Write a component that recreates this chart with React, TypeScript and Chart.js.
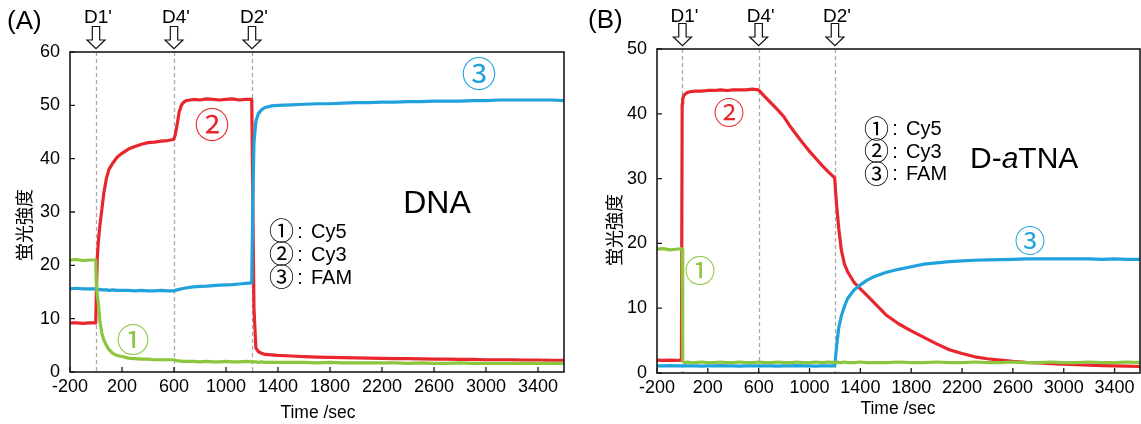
import React, { useEffect, useRef } from "react";
import { Chart, registerables } from "chart.js";

Chart.register(...registerables);

const LATIN = '"Liberation Sans", Arial, "Noto Sans CJK JP", sans-serif';
const CJK = '"Noto Sans CJK JP", "Liberation Sans", sans-serif';

const RED = "#e8262d";
const BLUE = "#22a2dc";
const GREEN = "#8cc63f";

// ---- shared tick labels / markers ----
const xTickLabels = [-200, 200, 600, 1000, 1400, 1800, 2200, 2600, 3000, 3400];
const injectTimes = [0, 600, 1200];
const injectLabels = ["D1'", "D4'", "D2'"];
const legendMarks = ["①", "②", "③"];
const legendNames = ["Cy5", "Cy3", "FAM"];

// ---- Panel A (DNA) ----
const timeA = [
  -200, -150, -100, -50, -2, 2, 10, 20, 30, 45, 60, 80, 100, 130, 160, 200, 250, 300, 350, 400, 450, 500,
  550, 598, 610, 625, 640, 660, 680, 700, 750, 800, 850, 900, 950, 1000, 1050, 1100, 1150, 1198, 1205,
  1215, 1230, 1250, 1275, 1300, 1350, 1400, 1500, 1600, 1700, 1800, 1900, 2000, 2100, 2200, 2300, 2400,
  2500, 2600, 2700, 2800, 2900, 3000, 3100, 3200, 3300, 3400, 3500, 3600,
];
const cy3A = [
  9.2, 9.2, 9.1, 9.2, 9.2,
  14.0, 21.5, 25.0, 27.5, 30.5, 33.5, 36.3, 38.0, 39.2, 40.2,
  41.0, 41.8, 42.3, 42.7, 43.0, 43.1, 43.3, 43.4, 43.6,
  44.5, 46.5, 48.8, 50.2, 50.7, 50.9,
  51.1, 51.0, 51.2, 51.1, 51.0, 51.1, 51.2, 51.0, 51.1, 51.1,
  35.0, 12.0, 4.5, 3.8, 3.5, 3.3, 3.2, 3.1,
  3.0, 2.9, 2.8, 2.75, 2.7, 2.65, 2.6, 2.55, 2.5, 2.5, 2.45, 2.4, 2.4, 2.35, 2.35, 2.3, 2.3, 2.3, 2.25,
  2.25, 2.2, 2.2,
];
const famA = [
  15.6, 15.7, 15.6, 15.6, 15.6,
  15.5, 15.5, 15.4, 15.5, 15.4, 15.4, 15.4, 15.3, 15.4, 15.3,
  15.3, 15.3, 15.2, 15.3, 15.2, 15.2, 15.3, 15.2, 15.2,
  15.3, 15.4, 15.5, 15.6, 15.7, 15.8,
  15.95, 16.05, 16.1, 16.2, 16.3, 16.35, 16.4, 16.5, 16.6, 16.7,
  30.0, 43.0, 47.0, 48.5, 49.2, 49.6, 49.9, 50.0,
  50.1, 50.2, 50.3, 50.3, 50.4, 50.5, 50.5, 50.6, 50.6, 50.7, 50.7, 50.8, 50.8, 50.8, 50.9, 50.9, 51.0,
  51.0, 51.0, 51.0, 51.0, 50.9,
];
const cy5A = [
  21.0, 21.1, 20.9, 21.0, 21.0,
  17.0, 14.5, 12.5, 9.5, 7.3, 6.0, 5.0, 4.2, 3.5, 3.1,
  2.9, 2.6, 2.5, 2.4, 2.4, 2.3, 2.3, 2.3, 2.3,
  2.2, 2.1, 2.1, 2.0, 2.0, 2.0,
  2.0, 1.9, 2.0, 1.9, 1.9, 2.0, 1.9, 1.9, 2.0, 1.9,
  1.9, 1.9, 1.9, 1.8, 1.9, 1.8, 1.8, 1.8,
  1.8, 1.8, 1.7, 1.8, 1.7, 1.7, 1.7, 1.7, 1.7, 1.6, 1.7, 1.6, 1.6, 1.7, 1.6, 1.6, 1.6, 1.6, 1.6, 1.6,
  1.6, 1.6,
];

// ---- Panel B (D-aTNA) ----
const timeB = [
  -200, -150, -100, -50, -8, -2, 2, 10, 25, 40, 60, 100, 150, 200, 250, 300, 350, 400, 450, 500, 550, 598,
  650, 700, 750, 800, 850, 900, 950, 1000, 1050, 1100, 1150, 1198, 1205, 1215, 1230, 1250, 1275, 1300,
  1350, 1400, 1450, 1500, 1600, 1700, 1800, 1900, 2000, 2100, 2200, 2300, 2400, 2500, 2600, 2700, 2800,
  2900, 3000, 3100, 3200, 3300, 3400, 3500, 3600,
];
const cy3B = [
  2.0, 1.95, 2.0, 1.95, 2.0,
  41.5,
  42.3, 42.8, 43.1, 43.3, 43.4,
  43.5, 43.5, 43.6, 43.6, 43.7, 43.6, 43.7, 43.7, 43.7, 43.8,
  43.7,
  42.6, 41.6, 40.6, 39.5, 38.0, 36.7, 35.4, 34.2, 33.1, 32.0, 31.0,
  30.1,
  28.0, 25.5, 22.3, 19.0, 16.8, 15.6, 14.0, 13.0, 12.0, 11.0,
  9.0, 7.6, 6.5, 5.5, 4.5, 3.6, 3.0, 2.5, 2.2, 2.0, 1.8, 1.65, 1.55, 1.45, 1.35, 1.3, 1.2, 1.15, 1.1,
  1.05, 1.0,
];
const famB = [
  1.1, 1.1, 1.15, 1.1, 1.1, 1.1,
  1.1, 1.1, 1.15, 1.1, 1.1,
  1.1, 1.05, 1.1, 1.1, 1.15, 1.1, 1.1, 1.05, 1.1, 1.1,
  1.1,
  1.1, 1.1, 1.05, 1.1, 1.1, 1.15, 1.1, 1.1, 1.05, 1.1, 1.1,
  1.1,
  2.5, 4.5, 7.0, 8.8, 10.3, 11.5, 12.8, 13.6, 14.3, 14.8,
  15.5, 16.0, 16.4, 16.8, 17.0, 17.2, 17.3, 17.4, 17.45, 17.5, 17.55, 17.6, 17.6, 17.6, 17.6, 17.6, 17.6,
  17.55, 17.6, 17.55, 17.55,
];
const cy5B = [
  19.1, 19.2, 19.0, 19.1, 19.2, 19.1,
  1.8, 1.7, 1.6, 1.7, 1.6,
  1.6, 1.7, 1.6, 1.6, 1.7, 1.6, 1.6, 1.7, 1.6, 1.6,
  1.7,
  1.6, 1.6, 1.7, 1.6, 1.6, 1.7, 1.6, 1.6, 1.7, 1.6, 1.7,
  1.6,
  1.7, 1.7, 1.6, 1.6, 1.7, 1.6, 1.6, 1.7, 1.6, 1.6,
  1.6, 1.7, 1.6, 1.6, 1.7, 1.6, 1.6, 1.7, 1.6, 1.6, 1.7, 1.6, 1.6, 1.7, 1.6, 1.6, 1.7, 1.6, 1.6, 1.7, 1.6,
];

type Mark = { text: string; cx: number; cy: number; size: number; color: string };
type Part = { t: string; italic?: boolean };

type Spec = {
  time: number[];
  cy5: number[];
  cy3: number[];
  fam: number[];
  yMax: number;
  canvasW: number;
  leftW: number;
  padRight: number;
  top: number;
  bottomH: number;
  panelLabel: string;
  panelLabelPos: [number, number];
  dLabelBase: number;
  yTitlePos: [number, number];
  xTitlePos: [number, number];
  marks: Mark[];
  legendPos: [number, number, number];
  namePos: [number, number];
  nameSize: number;
  nameAlign: CanvasTextAlign;
  nameParts: Part[];
  xTitleSize: number;
};

const specA: Spec = {
  time: timeA, cy5: cy5A, cy3: cy3A, fam: famA,
  yMax: 60, canvasW: 585, leftW: 70, padRight: 21, top: 52, bottomH: 52,
  panelLabel: "(A)", panelLabelPos: [7, 29], dLabelBase: 22.5,
  yTitlePos: [24, 225], xTitlePos: [318, 418], xTitleSize: 17.5,
  marks: [
    { text: "③", cx: 479, cy: 74, size: 35, color: BLUE },
    { text: "②", cx: 212, cy: 125, size: 35, color: RED },
    { text: "①", cx: 133, cy: 339, size: 33, color: GREEN },
  ],
  legendPos: [273, 237.5, 23],
  namePos: [437, 213], nameSize: 32, nameAlign: "center",
  nameParts: [{ t: "DNA" }],
};

const specB: Spec = {
  time: timeB, cy5: cy5B, cy3: cy3B, fam: famB,
  yMax: 50, canvasW: 556, leftW: 72, padRight: 1, top: 49, bottomH: 51,
  panelLabel: "(B)", panelLabelPos: [3, 28], dLabelBase: 21.7,
  yTitlePos: [29, 230], xTitlePos: [313, 414], xTitleSize: 17.5,
  marks: [
    { text: "②", cx: 144, cy: 112, size: 31, color: RED },
    { text: "①", cx: 115, cy: 270, size: 31, color: GREEN },
    { text: "③", cx: 445, cy: 240, size: 31, color: BLUE },
  ],
  legendPos: [283, 135, 22.5],
  namePos: [385, 168], nameSize: 30, nameAlign: "left",
  nameParts: [{ t: "D-" }, { t: "a", italic: true }, { t: "TNA" }],
};

function makeDeco(spec: Spec) {
  return {
    id: "deco" + spec.panelLabel,
    beforeDatasetsDraw(chart: any) {
      const { ctx, chartArea: ca, scales } = chart;
      const x = scales.x;
      ctx.save();
      ctx.strokeStyle = "#a9a9a9";
      ctx.lineWidth = 1.3;
      ctx.setLineDash([4, 3]);
      injectTimes.forEach((t) => {
        const px = Math.round(x.getPixelForValue(t)) + 0.5;
        ctx.beginPath();
        ctx.moveTo(px, ca.top);
        ctx.lineTo(px, ca.bottom);
        ctx.stroke();
      });
      ctx.restore();
    },
    afterDraw(chart: any) {
      const { ctx, chartArea: ca, scales } = chart;
      const x = scales.x;
      const y = scales.y;
      ctx.save();
      // frame
      ctx.strokeStyle = "#1a1a1a";
      ctx.lineWidth = 1.6;
      ctx.strokeRect(ca.left, ca.top, ca.right - ca.left, ca.bottom - ca.top);
      // inward tick marks
      ctx.lineWidth = 1.3;
      ctx.beginPath();
      x.ticks.forEach((t: any) => {
        const px = x.getPixelForValue(t.value);
        ctx.moveTo(px, ca.bottom);
        ctx.lineTo(px, ca.bottom - 5);
      });
      y.ticks.forEach((t: any) => {
        const py = y.getPixelForValue(t.value);
        ctx.moveTo(ca.left, py);
        ctx.lineTo(ca.left + 5, py);
      });
      ctx.stroke();

      // injection arrows + labels
      injectTimes.forEach((t, i) => {
        const cx = x.getPixelForValue(t);
        const tip = ca.top - 3.3;
        const headTop = ca.top - 12;
        const shaftTop = ca.top - 25.5;
        const hw = 9;
        const sw = 3.7;
        ctx.beginPath();
        ctx.moveTo(cx - sw, shaftTop);
        ctx.lineTo(cx + sw, shaftTop);
        ctx.lineTo(cx + sw, headTop);
        ctx.lineTo(cx + hw, headTop);
        ctx.lineTo(cx, tip);
        ctx.lineTo(cx - hw, headTop);
        ctx.lineTo(cx - sw, headTop);
        ctx.closePath();
        ctx.fillStyle = "#fff";
        ctx.fill();
        ctx.strokeStyle = "#111";
        ctx.lineWidth = 1.2;
        ctx.stroke();
        ctx.fillStyle = "#000";
        ctx.font = `19px ${LATIN}`;
        ctx.textAlign = "center";
        ctx.textBaseline = "alphabetic";
        ctx.fillText(injectLabels[i], cx + 2, spec.dLabelBase);
      });

      // panel label
      ctx.fillStyle = "#000";
      ctx.font = `26px ${LATIN}`;
      ctx.textAlign = "left";
      ctx.fillText(spec.panelLabel, spec.panelLabelPos[0], spec.panelLabelPos[1]);

      // axis titles
      ctx.font = `${spec.xTitleSize}px ${LATIN}`;
      ctx.textAlign = "center";
      ctx.fillText("Time /sec", spec.xTitlePos[0], spec.xTitlePos[1]);

      ctx.save();
      ctx.translate(spec.yTitlePos[0], spec.yTitlePos[1]);
      ctx.rotate(-Math.PI / 2);
      ctx.font = `18px ${CJK}`;
      ctx.textAlign = "center";
      ctx.textBaseline = "middle";
      ctx.fillText("蛍光強度", 0, 0);
      ctx.restore();

      // curve marks
      spec.marks.forEach((m) => {
        ctx.font = `${m.size}px ${CJK}`;
        ctx.fillStyle = m.color;
        ctx.textAlign = "center";
        ctx.textBaseline = "middle";
        ctx.fillText(m.text, m.cx, m.cy);
      });

      // legend text: circled digit, colon, dye name
      ctx.fillStyle = "#000";
      legendMarks.forEach((mk, i) => {
        const base = spec.legendPos[1] + i * spec.legendPos[2];
        const lx = spec.legendPos[0];
        ctx.font = `25px ${CJK}`;
        ctx.textAlign = "center";
        ctx.textBaseline = "middle";
        ctx.fillText(mk, lx + 8.5, base - 7);
        ctx.font = `20px ${LATIN}`;
        ctx.textBaseline = "alphabetic";
        ctx.fillText(":", lx + 27, base);
        ctx.textAlign = "left";
        ctx.fillText(legendNames[i], lx + 38, base);
      });

      // sample name
      const normal = `${spec.nameSize}px ${LATIN}`;
      const italic = `italic ${spec.nameSize}px ${LATIN}`;
      let total = 0;
      spec.nameParts.forEach((p) => {
        ctx.font = p.italic ? italic : normal;
        total += ctx.measureText(p.t).width;
      });
      let cur = spec.nameAlign === "center" ? spec.namePos[0] - total / 2 : spec.namePos[0];
      ctx.textAlign = "left";
      ctx.textBaseline = "alphabetic";
      spec.nameParts.forEach((p) => {
        ctx.font = p.italic ? italic : normal;
        ctx.fillText(p.t, cur, spec.namePos[1]);
        cur += ctx.measureText(p.t).width;
      });
      ctx.restore();
    },
  };
}

function toPoints(t: number[], v: number[]) {
  return t.map((tt, i) => ({ x: tt, y: v[i] }));
}

function makeConfig(spec: Spec): any {
  const line = (data: { x: number; y: number }[], color: string) => ({
    data,
    borderColor: color,
    backgroundColor: color,
    borderWidth: 3.2,
    pointRadius: 0,
    tension: 0,
    fill: false,
    borderJoinStyle: "round",
    borderCapStyle: "round",
  });
  return {
    type: "line",
    data: {
      datasets: [
        { label: "Cy5", ...line(toPoints(spec.time, spec.cy5), GREEN) },
        { label: "FAM", ...line(toPoints(spec.time, spec.fam), BLUE) },
        { label: "Cy3", ...line(toPoints(spec.time, spec.cy3), RED) },
      ],
    },
    options: {
      animation: false,
      responsive: false,
      maintainAspectRatio: false,
      devicePixelRatio: 1,
      layout: { padding: { left: 0, right: spec.padRight, top: spec.top, bottom: 0 } },
      plugins: { legend: { display: false }, tooltip: { enabled: false }, title: { display: false } },
      scales: {
        x: {
          type: "linear",
          min: -200,
          max: 3600,
          afterBuildTicks: (s: any) => {
            s.ticks = xTickLabels.map((v) => ({ value: v }));
          },
          afterFit: (s: any) => {
            s.height = spec.bottomH;
          },
          grid: { display: false, drawTicks: false },
          border: { display: false },
          ticks: {
            autoSkip: false,
            maxRotation: 0,
            minRotation: 0,
            padding: 4,
            color: "#000",
            font: { family: LATIN, size: 18 },
            callback: (v: any) => String(v),
          },
        },
        y: {
          type: "linear",
          min: 0,
          max: spec.yMax,
          afterFit: (s: any) => {
            s.width = spec.leftW;
          },
          grid: { display: false, drawTicks: false },
          border: { display: false },
          ticks: {
            stepSize: 10,
            padding: 10,
            color: "#000",
            font: { family: LATIN, size: 18 },
            callback: (v: any) => String(v),
          },
        },
      },
    },
    plugins: [makeDeco(spec)],
  };
}

function Panel({ spec, left }: { spec: Spec; left: number }) {
  const ref = useRef<HTMLCanvasElement>(null);
  useEffect(() => {
    const chart = new Chart(ref.current as HTMLCanvasElement, makeConfig(spec));
    return () => chart.destroy();
  }, [spec]);
  return (
    <canvas
      ref={ref}
      width={spec.canvasW}
      height={424}
      style={{ position: "absolute", left, top: 0, width: spec.canvasW, height: 424 }}
    />
  );
}

export default function App() {
  return (
    <div
      style={{
        position: "fixed",
        left: 0,
        top: 0,
        width: 1141,
        height: 424,
        background: "#fff",
        overflow: "hidden",
      }}
    >
      <Panel spec={specA} left={0} />
      <Panel spec={specB} left={585} />
    </div>
  );
}
